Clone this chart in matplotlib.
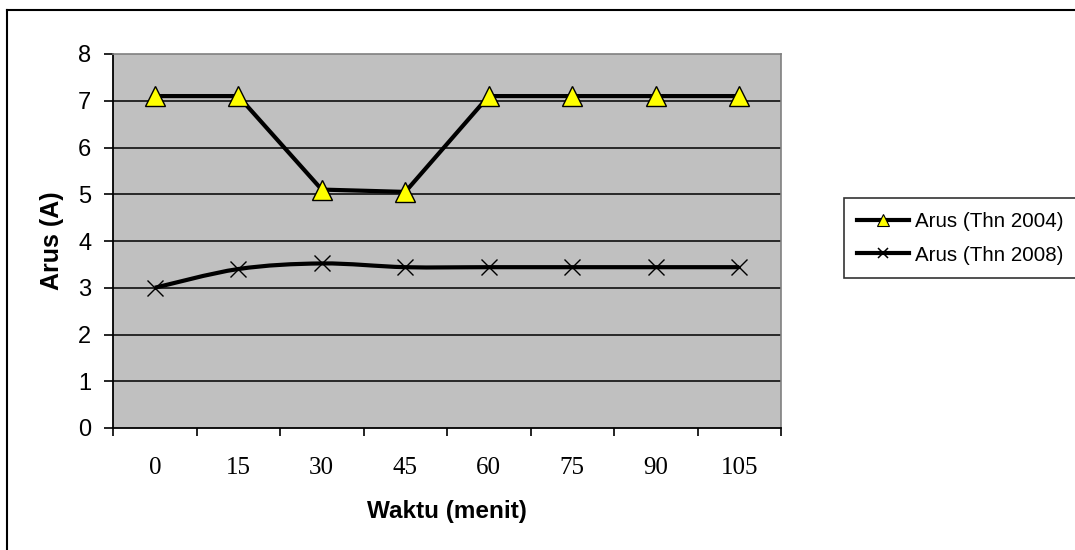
import numpy as np
import matplotlib
matplotlib.use("Agg")
import matplotlib.pyplot as plt
from matplotlib.path import Path
from matplotlib.patches import PathPatch
from matplotlib.lines import Line2D

# Data
waktu = ["0", "15", "30", "45", "60", "75", "90", "105"]
arus_2004 = [7.1, 7.1, 5.1, 5.05, 7.1, 7.1, 7.1, 7.1]
arus_2008 = [3.0, 3.4, 3.52, 3.44, 3.44, 3.44, 3.44, 3.44]
y_ticks = [0, 1, 2, 3, 4, 5, 6, 7, 8]

W, H = 1075, 550
fig = plt.figure(figsize=(W / 100, H / 100), dpi=100)
fig.patch.set_facecolor("white")

# chart frame (top and left edges of the chart area)
fig.add_artist(Line2D([7 / W, 1.01], [1 - 10 / H, 1 - 10 / H],
                      transform=fig.transFigure, color="black", linewidth=1.5))
fig.add_artist(Line2D([7 / W, 7 / W], [1 - 10 / H, -0.01],
                      transform=fig.transFigure, color="black", linewidth=1.5))

left, right, top, bottom = 113, 781, 54, 428
ax = fig.add_axes([left / W, 1 - bottom / H, (right - left) / W, (bottom - top) / H])
ax.set_facecolor("#C0C0C0")

x = np.arange(len(waktu))
ax.set_xlim(-0.5, len(waktu) - 0.5)
ax.set_ylim(0, 8)

# horizontal gridlines
for yv in y_ticks[1:-1]:
    ax.axhline(yv, color="black", linewidth=1.1, zorder=1)

# 2004 series: straight segments, yellow triangles
ax.plot(x, arus_2004, color="black", linewidth=3.0, zorder=3,
        marker="^", markersize=14.5, markerfacecolor="#FFFF00",
        markeredgecolor="black", markeredgewidth=1.0)

# 2008 series: smoothed curve through the points (cubic Bezier segments)
pts = np.column_stack([x, arus_2008]).astype(float)
verts = [tuple(pts[0])]
codes = [Path.MOVETO]
n = len(pts)
for i in range(n - 1):
    p0 = pts[i - 1] if i > 0 else pts[i]
    p1 = pts[i]
    p2 = pts[i + 1]
    p3 = pts[i + 2] if i + 2 < n else pts[i + 1]
    c1 = p1 + (p2 - p0) / 6.0
    c2 = p2 - (p3 - p1) / 6.0
    verts += [tuple(c1), tuple(c2), tuple(p2)]
    codes += [Path.CURVE4, Path.CURVE4, Path.CURVE4]
ax.add_patch(PathPatch(Path(verts, codes), facecolor="none",
                       edgecolor="black", linewidth=3.0, zorder=3))
ax.plot(x, arus_2008, linestyle="none", marker="x", markersize=12,
        markeredgecolor="black", markeredgewidth=1.0, zorder=4)

# axes styling
for side in ("top", "right"):
    ax.spines[side].set_color("#808080")
    ax.spines[side].set_linewidth(1.2)
ax.spines["left"].set_color("black")
ax.spines["bottom"].set_color("black")
ax.spines["left"].set_linewidth(1.3)
ax.spines["bottom"].set_linewidth(1.3)

ax.set_yticks(y_ticks)
ax.set_yticklabels([str(v) for v in y_ticks], fontsize=17, family="Liberation Sans")
ax.tick_params(axis="y", direction="out", length=6.5, width=1.2, pad=9)

# category ticks between labels
ax.set_xticks(np.arange(-0.5, len(waktu), 1.0))
ax.set_xticklabels([])
ax.tick_params(axis="x", direction="out", length=6, width=1.2)
ax.set_xticks(x, minor=True)
ax.set_xticklabels(waktu, minor=True, fontsize=18, family="Liberation Serif")
ax.tick_params(axis="x", which="minor", length=0, pad=21)

ax.set_xlabel("Waktu (menit)", fontsize=17.5, fontweight="bold",
              family="Liberation Sans", labelpad=15)
ax.set_ylabel("Arus (A)", fontsize=18, fontweight="bold",
              family="Liberation Sans", labelpad=10)

# legend
handles = [
    Line2D([], [], color="black", linewidth=3.0, marker="^", markersize=8,
           markerfacecolor="#FFFF00", markeredgecolor="black", markeredgewidth=0.8),
    Line2D([], [], color="black", linewidth=3.0, marker="x", markersize=7,
           markeredgecolor="black", markeredgewidth=1.1),
]
leg = fig.legend(handles, ["Arus (Thn 2004)", "Arus (Thn 2008)"],
                 loc="lower left", bbox_to_anchor=(844 / W, 1 - 278 / H),
                 prop={"family": "Liberation Sans", "size": 14.8},
                 frameon=True, fancybox=False, handlelength=2.5,
                 handletextpad=0.3, borderpad=0.65, labelspacing=0.72,
                 borderaxespad=0)
leg.get_frame().set_edgecolor("black")
leg.get_frame().set_linewidth(1.2)

fig.savefig("out.png", dpi=100)
